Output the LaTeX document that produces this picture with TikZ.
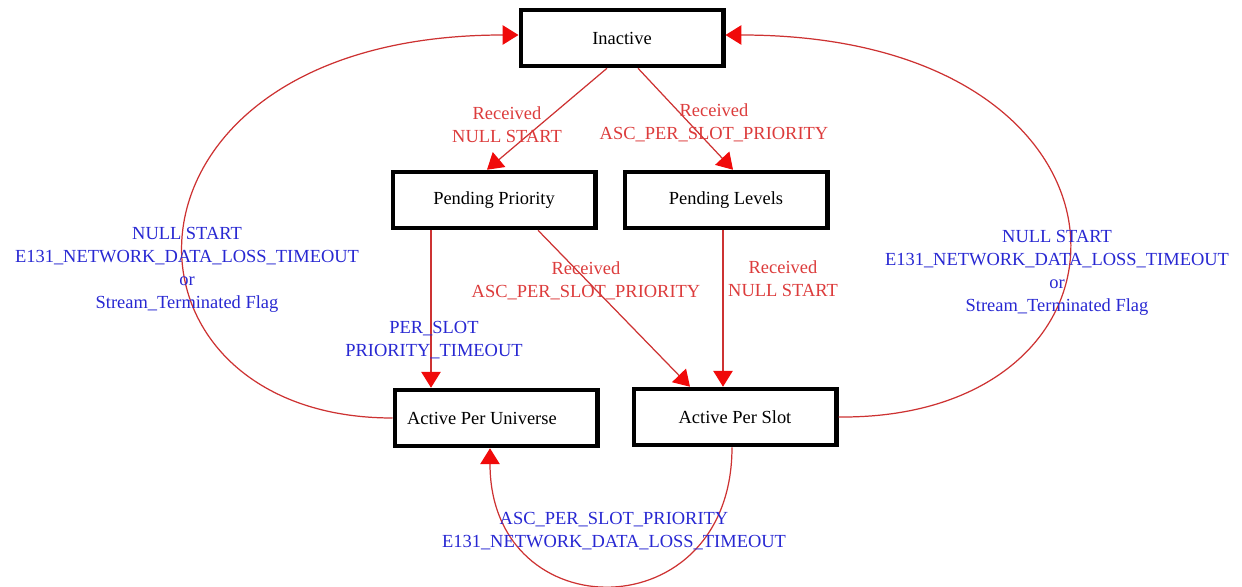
\documentclass[tikz,border=0pt]{standalone}
\usepackage{fontspec}
\setmainfont{Liberation Serif}
\usetikzlibrary{arrows.meta,calc}

\definecolor{edgered}{RGB}{205,50,50}
\definecolor{tipred}{RGB}{240,10,10}
\definecolor{labelred}{RGB}{220,60,60}
\definecolor{labelblue}{RGB}{40,40,210}

\tikzset{
    state/.style={draw, line width=2.3pt, minimum width=4.06cm, minimum height=1.13cm},
    arr/.style={draw=edgered, line width=0.7pt, -{Triangle[width=11pt,length=9pt,color=tipred]}},
    lblred/.style={text=labelred, align=center},
    lblblue/.style={text=labelblue, align=center}
}

\begin{document}
\begin{tikzpicture}[x=0.02cm, y=-0.02cm, font=\fontsize{10.5}{13.2}\selectfont]
    \useasboundingbox (0,0) rectangle (1242,587);

    \node[state] (ina) at (622,38) {Inactive};
    \node[state] (pp)  at (494,200) {Pending Priority};
    \node[state] (pl)  at (726,200) {Pending Levels};
    \node[state] (apu) at (496,418) {Active Per Universe\hspace*{16pt}};
    \node[state] (aps) at (735,417) {Active Per Slot};

    \draw[arr] ($(ina.south)+(-15,0)$) -- ($(pp.north)+(-7,0)$);
    \draw[arr] ($(ina.south)+(16,0)$) -- ($(pl.north)+(7,0)$);
    \draw[arr] ($(pp.south)+(-63,0)$) -- ($(apu.north)+(-65,0)$);
    \draw[arr] ($(pp.south)+(44,0)$) -- ($(aps.north)+(-45,0)$);
    \draw[arr] ($(pl.south)+(-3,0)$) -- ($(aps.north)+(-12,0)$);
    \draw[arr] (apu.west) .. controls (95,418) and (95,35) .. ($(ina.west)+(0,-3)$);
    \draw[arr] (aps.east) .. controls (1163,420) and (1163,35) .. ($(ina.east)+(0,-3)$);
    \draw[arr] ($(aps.south)+(-3,0)$) .. controls (732,631) and (490,631) .. ($(apu.south)+(-6,0)$);

    \node[lblred]  (l1) at (507,125) {Received\\NULL START};
    \node[lblred]  (l2) at (714,123) {Received\\ASC\_PER\_SLOT\_PRIORITY};
    \node[lblblue] (l3) at (434,340) {PER\_SLOT\\PRIORITY\_TIMEOUT};
    \node[lblred]  (l4) at (586,281) {Received\\ASC\_PER\_SLOT\_PRIORITY};
    \node[lblred]  (l5) at (783,279) {Received\\NULL START};
    \node[lblblue] (l6) at (187,270) {NULL START\\E131\_NETWORK\_DATA\_LOSS\_TIMEOUT\\or\\Stream\_Terminated Flag};
    \node[lblblue] (l7) at (1057,273) {NULL START\\E131\_NETWORK\_DATA\_LOSS\_TIMEOUT\\or\\Stream\_Terminated Flag};
    \node[lblblue] (l8) at (614,531) {ASC\_PER\_SLOT\_PRIORITY\\E131\_NETWORK\_DATA\_LOSS\_TIMEOUT};
\end{tikzpicture}
\end{document}
